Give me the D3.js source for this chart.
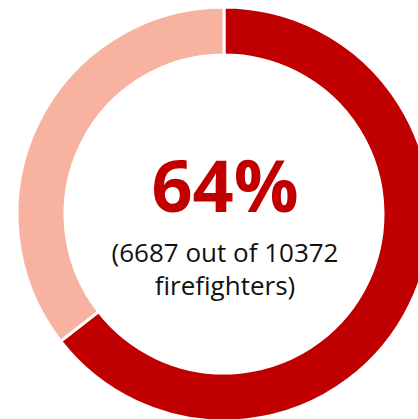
<!DOCTYPE html>
<html>
<head>
<meta charset="utf-8">
<script src="https://cdn.jsdelivr.net/npm/d3@7"></script>
<style>
  body { margin: 0; background: #fff; overflow: hidden; }
</style>
</head>
<body>
<div id="chart"></div>
<script>
// Share of firefighters, drawn as a donut
var categories = ["Yes", "No"];
var counts = [6687, 10372 - 6687];
var total = 10372;
var colors = ["#C00000", "#F8B3A0"];

var width = 418, height = 419;
var cx = 224, cy = 214;
var outerR = 207, innerR = 159;

var svg = d3.select("#chart").append("svg")
	.attr("width", width)
	.attr("height", height);

var g = svg.append("g")
	.attr("transform", "translate(" + cx + "," + cy + ")");

var pie = d3.pie().sort(null).value(function(d) { return d; });
var arc = d3.arc().innerRadius(innerR).outerRadius(outerR);

g.selectAll(".slice")
	.data(pie(counts))
	.enter()
	.append("path")
		.attr("class", "slice")
		.attr("d", arc)
		.style("fill", function(d, i) { return colors[i]; })
		.style("stroke", "#fff")
		.style("stroke-width", 3);

// centre labels
var pct = d3.format(".0%");
g.append("text")
	.text(pct(counts[0] / total))
	.attr("x", 1)
	.attr("y", -2)
	.style("font-family", "'Open Sans', sans-serif")
	.style("font-weight", 700)
	.style("font-size", "72px")
	.style("fill", colors[0])
	.style("text-anchor", "middle");

g.append("text")
	.text("(" + counts[0] + " out of " + total)
	.attr("x", 1)
	.attr("y", 48)
	.style("font-family", "'Open Sans', sans-serif")
	.style("font-size", "26px")
	.style("fill", "#111")
	.style("text-anchor", "middle");

g.append("text")
	.text("firefighters)")
	.attr("x", 1)
	.attr("y", 81)
	.style("font-family", "'Open Sans', sans-serif")
	.style("font-size", "26px")
	.style("fill", "#111")
	.style("text-anchor", "middle");
</script>
</body>
</html>
